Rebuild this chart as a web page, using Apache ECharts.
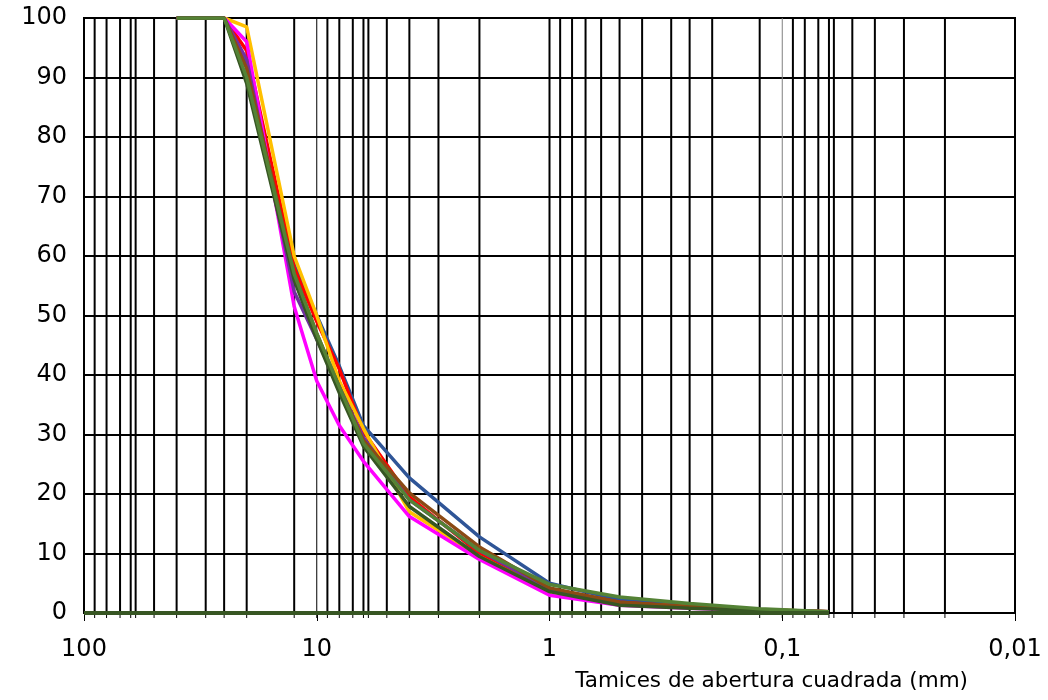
<!DOCTYPE html>
<html>
<head>
<meta charset="utf-8">
<script src="https://cdn.jsdelivr.net/npm/echarts@6/dist/echarts.min.js"></script>
<style>
html,body{margin:0;padding:0;background:#fff;}
#chart{width:1048px;height:700px;}
</style>
</head>
<body>
<div id="chart"></div>
<script>
// Sieve openings (mm)
const sieves = [40, 25, 20, 12.5, 10, 8, 6.3, 4, 2, 1, 0.5, 0.25, 0.125, 0.063];
// % passing for each curve
const blueValues      = [100, 100, 92,   58.5, 50, 41.5, 31.5, 22.7, 12.8, 5.0, 2.2, 1.3, 0.6, 0.2];
const redValues       = [100, 100, 94.5, 58,   49, 41,   30.5, 19.5, 10,   4.0, 1.8, 1.0, 0.5, 0.2];
const yellowValues    = [100, 100, 98.5, 60,   50, 39,   31,   17,   9.5,  3.6, 1.6, 1.1, 0.6, 0.2];
const magentaValues   = [100, 100, 96,   51.5, 39, 31.5, 25.5, 16.2, 9,    3.0, 1.3, 0.8, 0.4, 0.1];
const purpleValues    = [100, 100, 93,   54,   46, 38,   29.5, 19,   10.5, 4.0, 1.6, 1.0, 0.5, 0.2];
const brownValues     = [100, 100, 91.5, 57,   47, 38,   29,   20.2, 11.1, 4.2, 1.8, 1.1, 0.5, 0.2];
const darkGreenValues = [100, 100, 89,   56,   46, 37,   28,   17.9, 9.5,  3.6, 1.3, 0.8, 0.4, 0.1];
const greenValues     = [100, 100, 90,   57,   47, 38,   28.5, 19,   10.5, 4.8, 2.7, 1.6, 0.7, 0.2];
// baseline curve lying on 0
const zeroSieves = [100, 40, 25, 20, 12.5, 10, 8, 6.3, 4, 2, 1, 0.5, 0.25, 0.125, 0.063];
const zeroValues = [0, 0, 0, 0, 0, 0, 0, 0, 0, 0, 0, 0, 0, 0, 0];
// vertical grid lines (mm)
const gridThick = [90, 80, 70, 63, 60, 50, 40, 30, 25, 20, 12.5,
  9, 8, 7, 6.3, 6, 5, 4, 3, 2, 1,
  0.9, 0.8, 0.7, 0.6, 0.5, 0.4, 0.3, 0.25, 0.2, 0.125,
  0.09, 0.08, 0.07, 0.063, 0.06, 0.05, 0.04, 0.03, 0.02];
const gridThinDark = [10];
const gridThinGray = [0.1];
const yTicks = [0, 10, 20, 30, 40, 50, 60, 70, 80, 90, 100];
const xAxisTitle = 'Tamices de abertura cuadrada (mm)';

const FONT = 'DejaVu Sans';

function pairs(xs, ys) { return xs.map((x, i) => [x, ys[i]]); }

function gridRenderer(color, width) {
  return function (params, api) {
    const x = api.value(0);
    const top = api.coord([x, 100]);
    const bot = api.coord([x, 0]);
    return {
      type: 'group',
      children: [
        { type: 'line', shape: { x1: top[0], y1: top[1], x2: bot[0], y2: bot[1] },
          style: { stroke: color, lineWidth: width } },
        { type: 'line', shape: { x1: bot[0], y1: bot[1], x2: bot[0], y2: bot[1] + 5 },
          style: { stroke: '#000', lineWidth: 1 } }
      ]
    };
  };
}

function lineSeries(name, values, color, z) {
  return {
    name: name, type: 'line', data: pairs(sieves, values),
    symbol: 'none', z: z,
    lineStyle: { color: color, width: 3.5 },
    itemStyle: { color: color }
  };
}

const chart = echarts.init(document.getElementById('chart'));
chart.setOption({
  animation: false,
  backgroundColor: '#fff',
  grid: { left: 84, right: 33, top: 18, bottom: 87, show: true, borderColor: '#000', borderWidth: 2 },
  xAxis: {
    type: 'log', logBase: 10, min: 0.01, max: 100, inverse: true,
    axisLine: { show: true, lineStyle: { color: '#000', width: 2 } },
    axisTick: { show: true, length: 8, lineStyle: { color: '#000', width: 1 } },
    splitLine: { show: false },
    axisLabel: {
      color: '#000', fontFamily: FONT, fontSize: 24, margin: 25,
      formatter: function (v) { return String(Number(Number(v).toPrecision(2))).replace('.', ','); }
    }
  },
  yAxis: {
    type: 'value', min: yTicks[0], max: yTicks[yTicks.length - 1], interval: 10,
    axisLine: { show: true, lineStyle: { color: '#000', width: 2 } },
    axisTick: { show: false },
    splitLine: { show: true, lineStyle: { color: '#000', width: 2 } },
    axisLabel: { color: '#000', fontFamily: FONT, fontSize: 24, margin: 17 }
  },
  graphic: [{
    type: 'text', right: 80, top: 670,
    style: { text: xAxisTitle, font: '21.5px "DejaVu Sans"', fill: '#000' }
  }],
  series: [
    { type: 'custom', name: 'gridThick', data: gridThick.map(v => [v, 0]), clip: false, z: 1,
      renderItem: gridRenderer('#000', 2), silent: true },
    { type: 'custom', name: 'gridThinDark', data: gridThinDark.map(v => [v, 0]), clip: false, z: 1,
      renderItem: gridRenderer('#000', 1), silent: true },
    { type: 'custom', name: 'gridThinGray', data: gridThinGray.map(v => [v, 0]), clip: false, z: 1,
      renderItem: gridRenderer('#808080', 1), silent: true },
    lineSeries('Serie 1', blueValues, '#2F5597', 3),
    lineSeries('Serie 2', redValues, '#FF0000', 4),
    lineSeries('Serie 3', yellowValues, '#FFC000', 5),
    lineSeries('Serie 4', magentaValues, '#FF00FF', 6),
    lineSeries('Serie 5', purpleValues, '#7030A0', 7),
    lineSeries('Serie 6', brownValues, '#8B4A14', 8),
    lineSeries('Serie 7', darkGreenValues, '#375623', 9),
    lineSeries('Serie 8', greenValues, '#548235', 10),
    { name: 'Base', type: 'line', data: pairs(zeroSieves, zeroValues), symbol: 'none', z: 11,
      lineStyle: { color: '#375623', width: 4 } }
  ]
});
</script>
</body>
</html>
